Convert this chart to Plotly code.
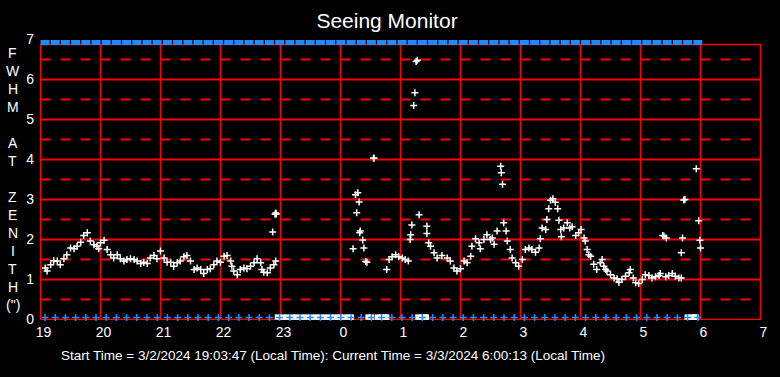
import plotly.graph_objects as go

# ---------------- data ----------------
# time in decimal hours (after midnight = 24 + h)
SEEING_T = [
    19.08, 19.11, 19.17, 19.22, 19.28, 19.33, 19.39, 19.44, 19.50, 19.56, 19.61, 19.67, 19.72, 19.78,
    19.83, 19.89, 19.94, 19.97, 20.00, 20.06, 20.11, 20.17, 20.22, 20.28, 20.33, 20.39, 20.44, 20.50,
    20.56, 20.61, 20.67, 20.72, 20.78, 20.83, 20.89, 20.94, 21.00, 21.06, 21.11, 21.17, 21.22, 21.28,
    21.33, 21.39, 21.44, 21.50, 21.56, 21.61, 21.67, 21.72, 21.78, 21.83, 21.89, 21.94, 22.00, 22.06,
    22.11, 22.17, 22.19, 22.22, 22.28, 22.33, 22.39, 22.44, 22.50, 22.56, 22.61, 22.67, 22.69, 22.72,
    22.78, 22.83, 22.89, 22.92, 22.87, 22.91, 22.92, 22.93,
    24.21, 24.25, 24.27, 24.29, 24.31, 24.32, 24.33, 24.37, 24.39, 24.42, 24.44, 24.55, 24.56,
    24.77, 24.81, 24.86, 24.92, 24.97, 25.03, 25.08, 25.13, 25.16, 25.17, 25.19, 25.22, 25.24,
    25.26, 25.28, 25.31, 25.44, 25.44, 25.47,
    25.50, 25.56, 25.61, 25.69, 25.78, 25.83, 25.89, 25.94, 26.00, 26.06, 26.11, 26.17, 26.19, 26.25,
    26.31, 26.33, 26.39, 26.44, 26.50, 26.53, 26.56, 26.61, 26.67, 26.68, 26.70, 26.72, 26.76, 26.78,
    26.83, 26.86, 26.92, 26.97, 27.03, 27.08, 27.14, 27.19, 27.25, 27.31, 27.33, 27.36, 27.42, 27.44,
    27.47, 27.50, 27.54, 27.58, 27.62, 27.64, 27.67, 27.68, 27.72, 27.78, 27.82, 27.86, 27.92, 27.97,
    28.01, 28.06, 28.08, 28.11, 28.14, 28.17, 28.22, 28.27, 28.33, 28.36, 28.39, 28.42, 28.44, 28.50,
    28.56, 28.61, 28.64, 28.69, 28.75, 28.81, 28.83, 28.88, 28.92, 28.97, 29.03, 29.08, 29.14, 29.19,
    29.25, 29.31, 29.33, 29.42, 29.47, 29.53, 29.58, 29.64, 29.68,
    29.37, 29.39, 29.43, 29.68, 29.70, 29.72, 29.74, 29.93, 29.97, 29.99, 30.00,
]
SEEING_V = [
    1.29, 1.21, 1.37, 1.47, 1.46, 1.37, 1.52, 1.62, 1.79, 1.77, 1.83, 1.93, 2.10, 2.17,
    1.96, 1.87, 1.83, 1.77, 1.92, 1.98, 1.75, 1.62, 1.54, 1.62, 1.52, 1.46, 1.50, 1.52,
    1.50, 1.46, 1.40, 1.43, 1.40, 1.54, 1.60, 1.52, 1.71, 1.54, 1.43, 1.43, 1.33, 1.42,
    1.46, 1.57, 1.60, 1.46, 1.25, 1.29, 1.25, 1.15, 1.25, 1.27, 1.37, 1.46, 1.43, 1.58,
    1.60, 1.46, 1.33, 1.21, 1.12, 1.25, 1.29, 1.27, 1.33, 1.42, 1.52, 1.42, 1.25, 1.18,
    1.17, 1.29, 1.37, 1.46, 2.19, 2.63, 2.66, 2.64,
    1.77, 3.12, 2.67, 3.17, 2.94, 2.17, 2.21, 1.99, 1.79, 1.45, 1.43, 4.03, 4.04,
    1.25, 1.50, 1.57, 1.62, 1.57, 1.54, 1.50, 1.46, 2.00, 2.12, 2.36, 5.35, 5.67,
    6.45, 6.48, 2.62, 2.33, 2.15, 1.92,
    1.83, 1.67, 1.54, 1.60, 1.54, 1.46, 1.29, 1.21, 1.27, 1.46, 1.42, 1.58, 1.83, 2.02,
    1.92, 1.77, 2.00, 2.12, 2.00, 2.04, 1.88, 2.21, 3.83, 3.67, 3.38, 2.42, 2.21, 1.96,
    1.75, 1.54, 1.42, 1.33, 1.50, 1.75, 1.79, 1.75, 1.68, 1.79, 2.02, 2.29, 2.25, 2.50,
    2.77, 2.98, 3.02, 2.93, 2.77, 2.48, 2.25, 2.07, 2.29, 2.42, 2.29, 2.32, 2.10, 2.17,
    2.25, 2.04, 1.96, 1.75, 1.62, 1.58, 1.38, 1.25, 1.42, 1.50, 1.33, 1.25, 1.21, 1.12,
    1.04, 1.02, 0.93, 1.00, 1.08, 1.17, 1.25, 1.04, 0.92, 0.90, 1.00, 1.12, 1.10, 1.04,
    1.07, 1.10, 1.15, 1.07, 1.10, 1.15, 1.08, 1.04, 1.04,
    2.10, 2.09, 2.04, 1.67, 2.04, 2.99, 3.00, 3.77, 2.47, 1.98, 1.79,
]

# times with no seeing measurement (plotted at zero)
ZERO_T = [22.95, 23.03, 23.11, 23.19, 23.27, 23.35, 23.43, 23.51, 23.59, 23.67, 23.75, 23.83,
          23.91, 23.99, 24.07, 24.15, 24.18, 24.46, 24.52, 24.62, 24.68, 24.74, 24.77,
          25.29, 25.35, 25.41, 25.43, 29.78, 29.84, 29.90, 29.93]

# sampling marks every ~10 minutes
MARK_START = 19.075
MARK_STEP_MIN = 10.2
MARK_COUNT = 65
MARK_T = [MARK_START + k * MARK_STEP_MIN / 60 for k in range(MARK_COUNT)]
MARK_TOP = 6.925
MARK_BOTTOM = 0.05
ZERO_LEVEL = 0.06

X_TICKS = list(range(19, 32))
X_LABELS = ["19", "20", "21", "22", "23", "0", "1", "2", "3", "4", "5", "6", "7"]
Y_TICKS = [0, 1, 2, 3, 4, 5, 6, 7]
Y_LETTERS = ["F", "W", "H", "M", "", "A", "T", "", "Z", "E", "N", "I", "T", "H", "(\")"]

TITLE = "Seeing Monitor"
FOOTER = "Start Time = 3/2/2024 19:03:47 (Local Time): Current Time = 3/3/2024 6:00:13 (Local Time)"

FRAME_TOP = 6.875
RED = "#ff0000"
BLUE = "#1e8cff"
FONT = "Arial, Liberation Sans, sans-serif"

# half-pixel padding so grid lines sit on pixel centres
X_HALF = 0.5 / 60
Y_HALF = 0.5 / 40

# ---------------- figure ----------------
fig = go.Figure()

fig.add_trace(go.Scatter(x=ZERO_T, y=[ZERO_LEVEL] * len(ZERO_T), mode="markers",
                         marker=dict(symbol="square", size=5.5, color="white", line=dict(width=0)),
                         cliponaxis=False, hoverinfo="skip"))
fig.add_trace(go.Scatter(x=MARK_T, y=[MARK_BOTTOM] * len(MARK_T), mode="markers",
                         marker=dict(symbol="cross-thin", size=5, line=dict(width=1.5, color=BLUE)),
                         cliponaxis=False, hoverinfo="skip"))
fig.add_trace(go.Scatter(x=MARK_T, y=[MARK_TOP] * len(MARK_T), mode="markers",
                         marker=dict(symbol="line-ew", size=6.4, line=dict(width=5, color=BLUE)),
                         cliponaxis=False, hoverinfo="skip"))
fig.add_trace(go.Scatter(x=SEEING_T, y=SEEING_V, mode="markers",
                         marker=dict(symbol="cross-thin", size=5, line=dict(width=1.5, color="white")),
                         cliponaxis=False))

VW = 1.5   # vertical line width
HW = 2     # horizontal line width
shapes = []
for xv in X_TICKS[1:-1]:
    shapes.append(dict(type="line", x0=xv, x1=xv, y0=0, y1=FRAME_TOP, xref="x", yref="y",
                       line=dict(color=RED, width=VW), layer="below"))
for yv in Y_TICKS[1:-1]:
    shapes.append(dict(type="line", x0=X_TICKS[0], x1=X_TICKS[-1], y0=yv, y1=yv, xref="x", yref="y",
                       line=dict(color=RED, width=HW), layer="below"))
    shapes.append(dict(type="line", x0=X_TICKS[0], x1=X_TICKS[-1], y0=yv - 0.5, y1=yv - 0.5,
                       xref="x", yref="y", line=dict(color=RED, width=HW, dash="10px,10px"),
                       layer="below"))
shapes.append(dict(type="line", x0=X_TICKS[0], x1=X_TICKS[-1], y0=6.5, y1=6.5, xref="x", yref="y",
                   line=dict(color=RED, width=HW, dash="10px,10px"), layer="below"))
shapes.append(dict(type="rect", x0=X_TICKS[0], x1=X_TICKS[-1], y0=0, y1=FRAME_TOP, xref="x", yref="y",
                   line=dict(color=RED, width=VW), layer="below"))

# plot area: x 40..761, y 39..320
L, T, W, H = 40, 39, 721, 281
annotations = []
for i, ch in enumerate(Y_LETTERS):
    if not ch:
        continue
    py = 53 + 18 * i
    annotations.append(dict(text=ch, x=(12.5 - L) / W, y=(T + H - py) / H, xref="paper", yref="paper",
                            xanchor="center", yanchor="middle", showarrow=False,
                            font=dict(family=FONT, size=14, color="white")))
annotations.append(dict(text=FOOTER, x=(333 - L) / W, y=(T + H - 355) / H, xref="paper", yref="paper",
                        xanchor="center", yanchor="middle", showarrow=False,
                        font=dict(family=FONT, size=13.5, color="white")))

fig.update_layout(
    width=780, height=377, autosize=False,
    margin=dict(l=L, r=780 - L - W, t=T, b=377 - T - H, pad=0),
    paper_bgcolor="black", plot_bgcolor="black",
    showlegend=False,
    title=dict(text=TITLE, x=387 / 780, y=1 - 21 / 377, xref="container", yref="container",
               xanchor="center", yanchor="middle", automargin=False,
               font=dict(family=FONT, size=21, color="white")),
    xaxis=dict(range=[X_TICKS[0] - X_HALF, X_TICKS[-1] + X_HALF], tickvals=X_TICKS, ticktext=X_LABELS,
               showgrid=False, zeroline=False, showline=False, ticks="", automargin=False,
               tickfont=dict(family=FONT, size=14, color="white"), ticklabelstandoff=2,
               ticklabelshift=3, fixedrange=True),
    yaxis=dict(range=[Y_TICKS[0] - Y_HALF, Y_TICKS[-1] + Y_HALF], tickvals=Y_TICKS, showgrid=False,
               zeroline=False, showline=False, automargin=False,
               ticks="", tickfont=dict(family=FONT, size=14, color="white"), ticklabelstandoff=5,
               fixedrange=True),
    shapes=shapes,
    annotations=annotations,
)

fig.write_html("out.html", config={"displayModeBar": False},
               post_script="document.body.style.margin='0px';document.body.style.overflow='hidden';")
